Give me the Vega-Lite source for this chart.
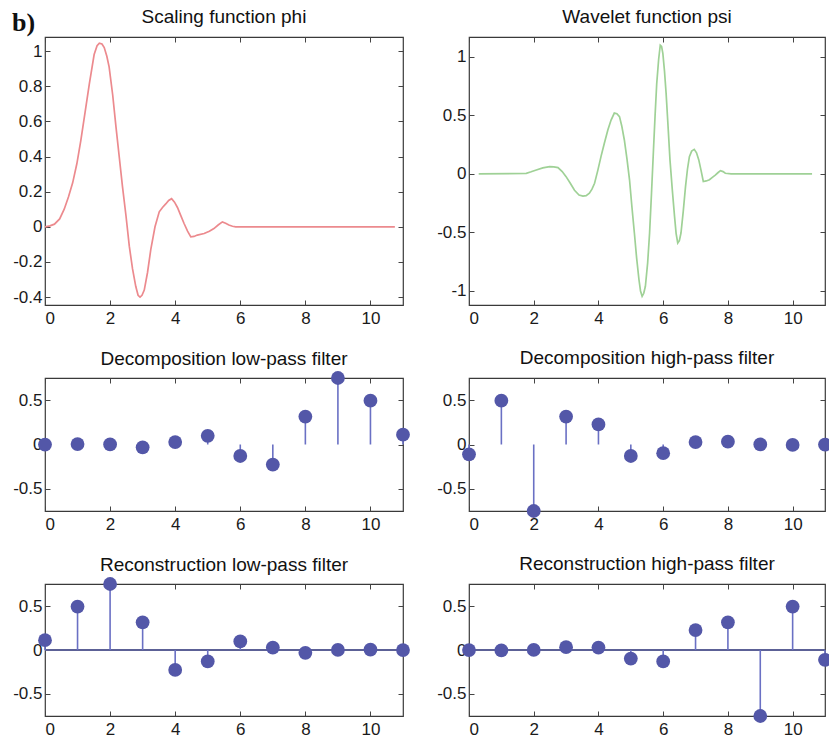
{
  "$schema": "https://vega.github.io/schema/vega-lite/v6.json",
  "background": "white",
  "padding": {"left": 12, "top": 6, "right": 0, "bottom": 0},
  "title": {"text": "b)", "anchor": "start", "frame": "bounds", "font": "Liberation Serif", "fontSize": 26, "fontWeight": "bold", "color": "#111", "offset": -29},
  "datasets": {
    "phi": [
      {"x":0,"y":0},{"x":0.15,"y":0.005},{"x":0.29,"y":0.015},{"x":0.45,"y":0.045},{"x":0.59,"y":0.1},{"x":0.72,"y":0.17},{"x":0.85,"y":0.25},{"x":0.98,"y":0.36},{"x":1.1,"y":0.49},{"x":1.23,"y":0.65},{"x":1.36,"y":0.81},{"x":1.51,"y":0.98},{"x":1.6,"y":1.03},{"x":1.67,"y":1.045},{"x":1.75,"y":1.04},{"x":1.82,"y":1.02},{"x":1.9,"y":0.97},{"x":1.97,"y":0.91},{"x":2.08,"y":0.75},{"x":2.18,"y":0.57},{"x":2.28,"y":0.4},{"x":2.38,"y":0.23},{"x":2.49,"y":0.06},{"x":2.59,"y":-0.11},{"x":2.69,"y":-0.24},{"x":2.79,"y":-0.34},{"x":2.86,"y":-0.39},{"x":2.92,"y":-0.4},{"x":2.98,"y":-0.39},{"x":3.05,"y":-0.36},{"x":3.15,"y":-0.26},{"x":3.25,"y":-0.13},{"x":3.38,"y":0.0},{"x":3.51,"y":0.085},{"x":3.61,"y":0.11},{"x":3.71,"y":0.13},{"x":3.8,"y":0.15},{"x":3.89,"y":0.16},{"x":3.98,"y":0.14},{"x":4.07,"y":0.11},{"x":4.17,"y":0.065},{"x":4.27,"y":0.02},{"x":4.38,"y":-0.025},{"x":4.48,"y":-0.057},{"x":4.58,"y":-0.055},{"x":4.68,"y":-0.047},{"x":4.89,"y":-0.038},{"x":5.05,"y":-0.025},{"x":5.19,"y":-0.01},{"x":5.32,"y":0.01},{"x":5.45,"y":0.028},{"x":5.55,"y":0.02},{"x":5.65,"y":0.01},{"x":5.76,"y":0.003},{"x":5.86,"y":0},{"x":8,"y":0},{"x":10.75,"y":0}
    ],
    "psi": [
      {"x":0.3,"y":0},{"x":1.77,"y":0.005},{"x":1.92,"y":0.018},{"x":2.08,"y":0.034},{"x":2.28,"y":0.052},{"x":2.49,"y":0.062},{"x":2.62,"y":0.06},{"x":2.75,"y":0.054},{"x":2.88,"y":0.02},{"x":3.0,"y":-0.023},{"x":3.13,"y":-0.08},{"x":3.26,"y":-0.14},{"x":3.4,"y":-0.18},{"x":3.52,"y":-0.19},{"x":3.62,"y":-0.185},{"x":3.72,"y":-0.165},{"x":3.8,"y":-0.13},{"x":3.88,"y":-0.08},{"x":3.98,"y":0.03},{"x":4.08,"y":0.15},{"x":4.18,"y":0.26},{"x":4.29,"y":0.375},{"x":4.39,"y":0.46},{"x":4.49,"y":0.52},{"x":4.57,"y":0.515},{"x":4.65,"y":0.49},{"x":4.72,"y":0.41},{"x":4.8,"y":0.29},{"x":4.88,"y":0.13},{"x":4.96,"y":-0.05},{"x":5.03,"y":-0.27},{"x":5.11,"y":-0.505},{"x":5.18,"y":-0.72},{"x":5.25,"y":-0.9},{"x":5.3,"y":-1.0},{"x":5.35,"y":-1.045},{"x":5.4,"y":-1.02},{"x":5.45,"y":-0.96},{"x":5.52,"y":-0.76},{"x":5.58,"y":-0.505},{"x":5.64,"y":-0.16},{"x":5.7,"y":0.205},{"x":5.75,"y":0.5},{"x":5.8,"y":0.77},{"x":5.86,"y":0.98},{"x":5.91,"y":1.1},{"x":5.95,"y":1.09},{"x":5.99,"y":1.03},{"x":6.04,"y":0.88},{"x":6.09,"y":0.69},{"x":6.15,"y":0.41},{"x":6.21,"y":0.12},{"x":6.28,"y":-0.13},{"x":6.35,"y":-0.36},{"x":6.4,"y":-0.51},{"x":6.45,"y":-0.59},{"x":6.5,"y":-0.57},{"x":6.55,"y":-0.505},{"x":6.62,"y":-0.32},{"x":6.69,"y":-0.108},{"x":6.75,"y":0.04},{"x":6.81,"y":0.148},{"x":6.88,"y":0.195},{"x":6.96,"y":0.21},{"x":7.03,"y":0.18},{"x":7.1,"y":0.12},{"x":7.17,"y":0.03},{"x":7.24,"y":-0.065},{"x":7.33,"y":-0.06},{"x":7.43,"y":-0.05},{"x":7.52,"y":-0.03},{"x":7.61,"y":-0.01},{"x":7.69,"y":0.01},{"x":7.77,"y":0.028},{"x":7.85,"y":0.02},{"x":7.92,"y":0.006},{"x":8.1,"y":0},{"x":10.6,"y":0}
    ],
    "lod": [
      {"n":0,"v":-0.0011},{"n":1,"v":0.0048},{"n":2,"v":0.0006},{"n":3,"v":-0.0316},{"n":4,"v":0.0275},{"n":5,"v":0.0975},{"n":6,"v":-0.1298},{"n":7,"v":-0.2263},{"n":8,"v":0.3153},{"n":9,"v":0.7511},{"n":10,"v":0.4946},{"n":11,"v":0.1115}
    ],
    "hid": [
      {"n":0,"v":-0.1115},{"n":1,"v":0.4946},{"n":2,"v":-0.7511},{"n":3,"v":0.3153},{"n":4,"v":0.2263},{"n":5,"v":-0.1298},{"n":6,"v":-0.0975},{"n":7,"v":0.0275},{"n":8,"v":0.0316},{"n":9,"v":0.0006},{"n":10,"v":-0.0048},{"n":11,"v":-0.0011}
    ],
    "lor": [
      {"n":0,"v":0.1115},{"n":1,"v":0.4946},{"n":2,"v":0.7511},{"n":3,"v":0.3153},{"n":4,"v":-0.2263},{"n":5,"v":-0.1298},{"n":6,"v":0.0975},{"n":7,"v":0.0275},{"n":8,"v":-0.0316},{"n":9,"v":0.0006},{"n":10,"v":0.0048},{"n":11,"v":-0.0011}
    ],
    "hir": [
      {"n":0,"v":-0.0011},{"n":1,"v":-0.0048},{"n":2,"v":0.0006},{"n":3,"v":0.0316},{"n":4,"v":0.0275},{"n":5,"v":-0.0975},{"n":6,"v":-0.1298},{"n":7,"v":0.2263},{"n":8,"v":0.3153},{"n":9,"v":-0.7511},{"n":10,"v":0.4946},{"n":11,"v":-0.1115}
    ]
  },
  "columns": 2,
  "spacing": {"row": 73, "column": 66},
  "bounds": "flush",
  "concat": [
    {
      "width": 358, "height": 268,
      "title": {"text": "Scaling function phi"},
      "data": {"name": "phi"},
      "layer": [
        {"mark": {"type": "line", "color": "#ec8a8e", "strokeWidth": 1.7},
         "encoding": {
           "x": {"field": "x", "type": "quantitative", "scale": {"domain": [0, 11], "nice": false, "zero": false}, "axis": {"values": [0,2,4,6,8,10], "title": null, "labelPadding": 10}},
           "y": {"field": "y", "type": "quantitative", "scale": {"domain": [-0.445, 1.08], "nice": false, "zero": false}, "axis": {"values": [-0.4,-0.2,0,0.2,0.4,0.6,0.8,1], "title": null, "labelPadding": 8, "labelExpr": "toString(datum.value)"}}}},
        {"mark": {"type": "point", "opacity": 0},
         "encoding": {
           "x": {"field": "x", "type": "quantitative", "axis": {"orient": "top", "values": [0,2,4,6,8,10], "labels": false, "title": null}},
           "y": {"field": "y", "type": "quantitative", "axis": {"orient": "right", "values": [-0.4,-0.2,0,0.2,0.4,0.6,0.8,1], "labels": false, "title": null}}}}
      ],
      "resolve": {"axis": {"x": "independent", "y": "independent"}}
    },
    {
      "width": 356, "height": 268,
      "title": {"text": "Wavelet function psi"},
      "data": {"name": "psi"},
      "layer": [
        {"mark": {"type": "line", "color": "#9fd196", "strokeWidth": 1.7},
         "encoding": {
           "x": {"field": "x", "type": "quantitative", "scale": {"domain": [0, 11], "nice": false, "zero": false}, "axis": {"values": [0,2,4,6,8,10], "title": null, "labelPadding": 10}},
           "y": {"field": "y", "type": "quantitative", "scale": {"domain": [-1.12, 1.17], "nice": false, "zero": false}, "axis": {"values": [-1,-0.5,0,0.5,1], "title": null, "labelPadding": 8, "labelExpr": "toString(datum.value)"}}}},
        {"mark": {"type": "point", "opacity": 0},
         "encoding": {
           "x": {"field": "x", "type": "quantitative", "axis": {"orient": "top", "values": [0,2,4,6,8,10], "labels": false, "title": null}},
           "y": {"field": "y", "type": "quantitative", "axis": {"orient": "right", "values": [-1,-0.5,0,0.5,1], "labels": false, "title": null}}}}
      ],
      "resolve": {"axis": {"x": "independent", "y": "independent"}}
    },
    {
      "width": 358, "height": 133,
      "title": {"text": "Decomposition low-pass filter", "offset": 2},
      "data": {"name": "lod"},
      "layer": [
        {"mark": {"type": "rule", "color": "#6a70c4", "strokeWidth": 1.6},
         "encoding": {
           "x": {"field": "n", "type": "quantitative", "scale": {"domain": [0, 11], "nice": false, "zero": false}, "axis": {"values": [0,2,4,6,8,10], "title": null, "labelPadding": 10}},
           "y": {"field": "v", "type": "quantitative", "scale": {"domain": [-0.7511, 0.7511], "nice": false}, "axis": {"values": [-0.5,0,0.5], "title": null, "labelPadding": 8, "labelExpr": "toString(datum.value)"}},
           "y2": {"datum": 0}}},
        {"mark": {"type": "circle", "size": 190, "color": "#5357a8", "opacity": 1},
         "encoding": {
           "x": {"field": "n", "type": "quantitative", "axis": null},
           "y": {"field": "v", "type": "quantitative", "axis": null}}},
        {"mark": {"type": "point", "opacity": 0},
         "encoding": {
           "x": {"field": "n", "type": "quantitative", "axis": {"orient": "top", "values": [0,2,4,6,8,10], "labels": false, "title": null}},
           "y": {"field": "v", "type": "quantitative", "axis": {"orient": "right", "values": [-0.5,0,0.5], "labels": false, "title": null}}}}
      ],
      "resolve": {"axis": {"x": "independent", "y": "independent"}}
    },
    {
      "width": 356, "height": 133,
      "title": {"text": "Decomposition high-pass filter"},
      "data": {"name": "hid"},
      "layer": [
        {"mark": {"type": "rule", "color": "#6a70c4", "strokeWidth": 1.6},
         "encoding": {
           "x": {"field": "n", "type": "quantitative", "scale": {"domain": [0, 11], "nice": false, "zero": false}, "axis": {"values": [0,2,4,6,8,10], "title": null, "labelPadding": 10}},
           "y": {"field": "v", "type": "quantitative", "scale": {"domain": [-0.7511, 0.7511], "nice": false}, "axis": {"values": [-0.5,0,0.5], "title": null, "labelPadding": 8, "labelExpr": "toString(datum.value)"}},
           "y2": {"datum": 0}}},
        {"mark": {"type": "circle", "size": 190, "color": "#5357a8", "opacity": 1},
         "encoding": {
           "x": {"field": "n", "type": "quantitative", "axis": null},
           "y": {"field": "v", "type": "quantitative", "axis": null}}},
        {"mark": {"type": "point", "opacity": 0},
         "encoding": {
           "x": {"field": "n", "type": "quantitative", "axis": {"orient": "top", "values": [0,2,4,6,8,10], "labels": false, "title": null}},
           "y": {"field": "v", "type": "quantitative", "axis": {"orient": "right", "values": [-0.5,0,0.5], "labels": false, "title": null}}}}
      ],
      "resolve": {"axis": {"x": "independent", "y": "independent"}}
    },
    {
      "width": 358, "height": 132,
      "title": {"text": "Reconstruction low-pass filter", "offset": 2},
      "data": {"name": "lor"},
      "layer": [
        {"mark": {"type": "rule", "color": "#5d6296", "strokeWidth": 1.5},
         "encoding": {"y": {"datum": 0, "type": "quantitative", "axis": null}}},
        {"mark": {"type": "rule", "color": "#6a70c4", "strokeWidth": 1.6},
         "encoding": {
           "x": {"field": "n", "type": "quantitative", "scale": {"domain": [0, 11], "nice": false, "zero": false}, "axis": {"values": [0,2,4,6,8,10], "title": null, "labelPadding": 10}},
           "y": {"field": "v", "type": "quantitative", "scale": {"domain": [-0.7511, 0.7511], "nice": false}, "axis": {"values": [-0.5,0,0.5], "title": null, "labelPadding": 8, "labelExpr": "toString(datum.value)"}},
           "y2": {"datum": 0}}},
        {"mark": {"type": "circle", "size": 190, "color": "#5357a8", "opacity": 1},
         "encoding": {
           "x": {"field": "n", "type": "quantitative", "axis": null},
           "y": {"field": "v", "type": "quantitative", "axis": null}}},
        {"mark": {"type": "point", "opacity": 0},
         "encoding": {
           "x": {"field": "n", "type": "quantitative", "axis": {"orient": "top", "values": [0,2,4,6,8,10], "labels": false, "title": null}},
           "y": {"field": "v", "type": "quantitative", "axis": {"orient": "right", "values": [-0.5,0,0.5], "labels": false, "title": null}}}}
      ],
      "resolve": {"axis": {"x": "independent", "y": "independent"}}
    },
    {
      "width": 356, "height": 132,
      "title": {"text": "Reconstruction high-pass filter"},
      "data": {"name": "hir"},
      "layer": [
        {"mark": {"type": "rule", "color": "#5d6296", "strokeWidth": 1.5},
         "encoding": {"y": {"datum": 0, "type": "quantitative", "axis": null}}},
        {"mark": {"type": "rule", "color": "#6a70c4", "strokeWidth": 1.6},
         "encoding": {
           "x": {"field": "n", "type": "quantitative", "scale": {"domain": [0, 11], "nice": false, "zero": false}, "axis": {"values": [0,2,4,6,8,10], "title": null, "labelPadding": 10}},
           "y": {"field": "v", "type": "quantitative", "scale": {"domain": [-0.7511, 0.7511], "nice": false}, "axis": {"values": [-0.5,0,0.5], "title": null, "labelPadding": 8, "labelExpr": "toString(datum.value)"}},
           "y2": {"datum": 0}}},
        {"mark": {"type": "circle", "size": 190, "color": "#5357a8", "opacity": 1},
         "encoding": {
           "x": {"field": "n", "type": "quantitative", "axis": null},
           "y": {"field": "v", "type": "quantitative", "axis": null}}},
        {"mark": {"type": "point", "opacity": 0},
         "encoding": {
           "x": {"field": "n", "type": "quantitative", "axis": {"orient": "top", "values": [0,2,4,6,8,10], "labels": false, "title": null}},
           "y": {"field": "v", "type": "quantitative", "axis": {"orient": "right", "values": [-0.5,0,0.5], "labels": false, "title": null}}}}
      ],
      "resolve": {"axis": {"x": "independent", "y": "independent"}}
    }
  ],
  "config": {
    "view": {"stroke": "#3a3a3a", "strokeWidth": 1.2},
    "axis": {"domain": false, "grid": false, "ticks": true, "tickSize": -5, "tickColor": "#444", "tickWidth": 1, "labelFont": "Liberation Sans", "labelFontSize": 17, "labelColor": "#1a1a1a"},
    "title": {"font": "Liberation Sans", "fontSize": 19, "fontWeight": "normal", "color": "#111", "offset": 10}
  }
}
